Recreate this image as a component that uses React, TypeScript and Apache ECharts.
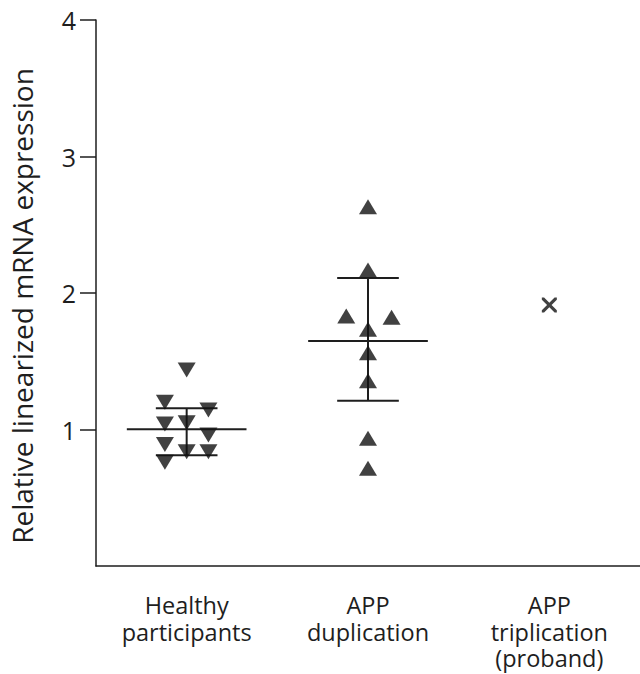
import React, { useEffect, useRef } from "react";
import * as echarts from "echarts";

const categories = ["Healthy\nparticipants", "APP\nduplication", "APP\ntriplication\n(proband)"];
const yTicks = [1, 2, 3, 4];
const yAxisTitle = "Relative linearized mRNA expression";

// [x offset within group, value]
const healthyPoints: number[][] = [
  [-0.12, 1.2], [-0.12, 1.04], [-0.12, 0.89], [-0.12, 0.76],
  [0, 1.436], [0, 1.05], [0, 0.837],
  [0.12, 1.143], [0.12, 0.96], [0.12, 0.837],
];
const duplicationPoints: number[][] = [
  [0, 2.632], [0, 2.168], [-0.12, 1.832], [0.13, 1.822], [0, 1.734],
  [0, 1.563], [0, 1.357], [0, 0.935], [0, 0.716],
];
const triplicationPoints: number[][] = [[0, 1.912]];

// [group index, mean, lower, upper]
const summaryStats: number[][] = [
  [0, 1.001, 0.811, 1.155],
  [1, 1.648, 1.211, 2.11],
];

const ink = "#1e1e1e";
const font = "'Open Sans', 'Noto Sans', sans-serif";
const xPath =
  "path://M0,0 L2.4,0 L8,5.6 L13.6,0 L16,0 L16,2.4 L10.4,8 L16,13.6 L16,16 L13.6,16 L8,10.4 L2.4,16 L0,16 L0,13.6 L5.6,8 L0,2.4 Z";

export default function App() {
  const ref = useRef<HTMLDivElement>(null);
  useEffect(() => {
    document.body.style.margin = "0";
    if (!ref.current) return;
    const chart = echarts.init(ref.current, undefined, { renderer: "svg" });
    const shift = (pts: number[][], g: number) => pts.map((p) => [g + p[0], p[1]]);
    chart.setOption({
      animation: false,
      grid: { left: 96, right: 0, top: 20, bottom: 108, containLabel: false, outerBoundsMode: "none" },
      graphic: [
        {
          type: "text",
          x: 22,
          y: 306,
          rotation: Math.PI / 2,
          style: {
            text: yAxisTitle,
            fill: ink,
            font: `28px ${font}`,
            align: "center",
            verticalAlign: "middle",
          },
        },
      ],
      xAxis: [
        {
          type: "category",
          data: categories,
          axisLine: { lineStyle: { color: ink, width: 1.5 } },
          axisTick: { alignWithLabel: true, length: 19, lineStyle: { color: ink, width: 1.5 } },
          axisLabel: {
            color: ink,
            fontFamily: font,
            fontSize: 23.5,
            lineHeight: 26.5,
            margin: 26,
            interval: 0,
          },
          splitLine: { show: false },
        },
        {
          type: "value",
          min: -0.5,
          max: 2.5,
          show: false,
        },
      ],
      yAxis: {
        type: "value",
        min: 0,
        max: 4,
        interval: 1,
        axisLine: { show: true, onZero: false, lineStyle: { color: ink, width: 1.5 } },
        axisTick: { show: true, length: 16, customValues: yTicks, lineStyle: { color: ink, width: 1.5 } },
        axisLabel: { color: ink, fontFamily: font, fontSize: 25, margin: 20, customValues: yTicks },
        splitLine: { show: false },
      },
      series: [
        {
          type: "custom",
          xAxisIndex: 1,
          data: summaryStats,
          z: 1,
          renderItem: (params: any, api: any) => {
            const g = api.value(0);
            const mean = api.value(1);
            const lo = api.value(2);
            const hi = api.value(3);
            const pMeanL = api.coord([g - 0.33, mean]);
            const pMeanR = api.coord([g + 0.33, mean]);
            const pLo = api.coord([g, lo]);
            const pHi = api.coord([g, hi]);
            const pLoL = api.coord([g - 0.17, lo]);
            const pLoR = api.coord([g + 0.17, lo]);
            const pHiL = api.coord([g - 0.17, hi]);
            const pHiR = api.coord([g + 0.17, hi]);
            const style = { stroke: ink, lineWidth: 2 };
            return {
              type: "group",
              children: [
                { type: "line", shape: { x1: pMeanL[0], y1: pMeanL[1], x2: pMeanR[0], y2: pMeanR[1] }, style },
                { type: "line", shape: { x1: pLo[0], y1: pLo[1], x2: pHi[0], y2: pHi[1] }, style },
                { type: "line", shape: { x1: pLoL[0], y1: pLoL[1], x2: pLoR[0], y2: pLoR[1] }, style },
                { type: "line", shape: { x1: pHiL[0], y1: pHiL[1], x2: pHiR[0], y2: pHiR[1] }, style },
              ],
            };
          },
        },
        {
          type: "scatter",
          xAxisIndex: 1,
          data: shift(healthyPoints, 0),
          symbol: "triangle",
          symbolRotate: 180,
          symbolSize: [18, 15],
          itemStyle: { color: "#111111" },
          z: 2,
        },
        {
          type: "scatter",
          xAxisIndex: 1,
          data: shift(duplicationPoints, 1),
          symbol: "triangle",
          symbolSize: [18, 15],
          itemStyle: { color: "#111111" },
          z: 2,
        },
        {
          type: "scatter",
          xAxisIndex: 1,
          data: shift(triplicationPoints, 2),
          symbol: xPath,
          symbolSize: 15,
          itemStyle: { color: "#111111" },
          z: 2,
        },
      ],
    });
    return () => chart.dispose();
  }, []);
  return <div ref={ref} style={{ width: 640, height: 674 }} />;
}
